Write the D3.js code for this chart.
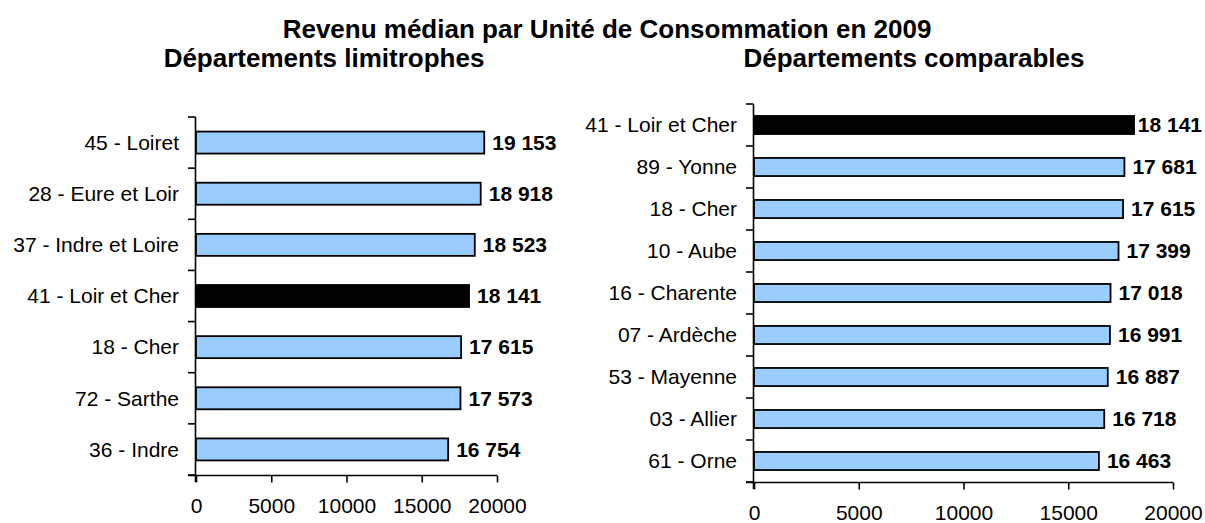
<!DOCTYPE html>
<html>
<head>
<meta charset="utf-8">
<script src="https://cdn.jsdelivr.net/npm/d3@7"></script>
<style>
	body { margin: 0; background: #fff; }
	svg text { font-family: Arial, "Liberation Sans", sans-serif; fill: #000; }
	.axis path, .axis line { stroke: #000; stroke-width: 1.6px; }
	.axis text { font-size: 21px; }
	.val { font-size: 21px; font-weight: bold; }
	.ttl { font-size: 26px; font-weight: bold; }
</style>
</head>
<body>
<svg id="graph" width="1205" height="523"></svg>
<script>
	var leftNames = ["45 - Loiret", "28 - Eure et Loir", "37 - Indre et Loire", "41 - Loir et Cher", "18 - Cher", "72 - Sarthe", "36 - Indre"],
		leftValues = [19153, 18918, 18523, 18141, 17615, 17573, 16754];
	var rightNames = ["41 - Loir et Cher", "89 - Yonne", "18 - Cher", "10 - Aube", "16 - Charente", "07 - Ardèche", "53 - Mayenne", "03 - Allier", "61 - Orne"],
		rightValues = [18141, 17681, 17615, 17399, 17018, 16991, 16887, 16718, 16463];
	var highlight = "41 - Loir et Cher",
		xTicks = [0, 5000, 10000, 15000, 20000];
	var title = "Revenu médian par Unité de Consommation en 2009",
		leftTitle = "Départements limitrophes",
		rightTitle = "Départements comparables";

	var graph = d3.select("#graph");
	var fmt = function(v) { return d3.format(",")(v).replace(",", " "); };

	graph.append("text").attr("class", "ttl")
		.attr("x", 607).attr("y", 38)
		.attr("text-anchor", "middle")
		.text(title);

	var drawPanel = function(names, values, box, subtitle, subX) {
		var g = graph.append("g");
		var x = d3.scaleLinear().domain([0, 20000]).range([box.left, box.right]),
			y = d3.scaleBand().domain(names).range([box.top, box.bottom])
				.paddingInner(0.57).paddingOuter(0.285);

		graph.append("text").attr("class", "ttl")
			.attr("x", subX).attr("y", 67)
			.attr("text-anchor", "middle")
			.text(subtitle);

		// y axis: ticks on band boundaries
		var step = y.step();
		var yAx = g.append("g").attr("class", "axis");
		yAx.append("line")
			.attr("x1", box.left - 0.5).attr("x2", box.left - 0.5)
			.attr("y1", box.top).attr("y2", box.bottom + 7);
		yAx.selectAll(".tk").data(d3.range(names.length + 1))
			.enter().append("line").attr("class", "tk")
			.attr("x1", box.left - 8).attr("x2", box.left - 0.5)
			.attr("y1", function(i) { return box.top + i * step; })
			.attr("y2", function(i) { return box.top + i * step; });
		yAx.selectAll("text").data(names)
			.enter().append("text")
			.attr("x", box.left - 17)
			.attr("y", function(d) { return y(d) + y.bandwidth() / 2; })
			.attr("dy", "0.35em")
			.attr("text-anchor", "end")
			.text(function(d) { return d; });

		var xAxis = d3.axisBottom(x).tickValues(xTicks).tickFormat(d3.format("d"))
			.tickSizeInner(7).tickSizeOuter(0).tickPadding(16);
		var xg = g.append("g").attr("class", "axis")
			.attr("transform", "translate(0," + (box.bottom + 0.5) + ")")
			.call(xAxis);
		xg.select(".domain").attr("d", "M" + (box.left - 8) + ",0H" + box.right);
		xg.selectAll("text").attr("font-size", "20px").attr("font-family", null);

		var data = names.map(function(n, i) { return {name: n, value: values[i]}; });
		g.selectAll("rect").data(data)
			.enter().append("rect")
			.attr("x", x(0))
			.attr("y", function(d) { return y(d.name); })
			.attr("width", function(d) { return x(d.value) - x(0); })
			.attr("height", y.bandwidth())
			.attr("fill", function(d) { return d.name == highlight ? "#000" : "#99ccff"; })
			.attr("stroke", "#000")
			.attr("stroke-width", 1.8);

		g.selectAll(".val").data(data)
			.enter().append("text").attr("class", "val")
			.attr("y", function(d) { return y(d.name) + y.bandwidth() / 2; })
			.attr("dy", "0.35em")
			.text(function(d) { return fmt(d.value); })
			.attr("x", function(d) {
				var w = this.getComputedTextLength();
				return Math.min(x(d.value) + 8, 1202 - w);
			});
	};

	drawPanel(leftNames, leftValues, {left: 196, right: 497, top: 117, bottom: 475}, leftTitle, 324);
	drawPanel(rightNames, rightValues, {left: 754, right: 1173, top: 104, bottom: 482}, rightTitle, 914);
</script>
</body>
</html>
